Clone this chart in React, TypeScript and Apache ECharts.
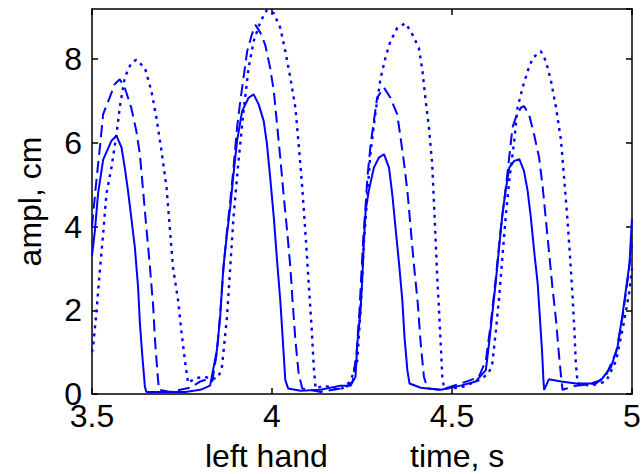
import React, { useEffect, useRef } from "react";
import * as echarts from "echarts";

const xMin = 3.5;
const xMax = 5;
const yMin = 0;
const yMax = 9.2;
const xStep = 0.5;
const yStep = 2;
const xTitleLeft = "left hand";
const xTitleRight = "time, s";
const yTitle = "ampl, cm";

// [time s, amplitude cm]
const solidLine: [number, number][] = [
  [3.5, 3.3], [3.508, 3.9], [3.517, 4.8], [3.531, 5.6], [3.554, 6.05], [3.568, 6.17],
  [3.582, 5.89], [3.591, 5.41], [3.6, 4.86], [3.609, 4.22], [3.619, 3.51], [3.628, 2.55],
  [3.633, 1.69], [3.64, 0.89], [3.647, 0.17], [3.651, 0.05], [3.689, 0.05], [3.759, 0.05],
  [3.801, 0.1], [3.828, 0.2], [3.847, 1.05], [3.856, 1.84], [3.865, 3.03], [3.875, 3.83],
  [3.884, 4.46], [3.893, 5.25], [3.903, 6.05], [3.917, 6.76], [3.935, 7.08], [3.949, 7.16],
  [3.963, 6.92], [3.977, 6.52], [3.986, 5.97], [3.995, 5.17], [4.005, 4.22], [4.014, 3.19],
  [4.023, 2.24], [4.03, 1.29], [4.037, 0.33], [4.045, 0.13], [4.079, 0.08], [4.135, 0.1],
  [4.19, 0.2], [4.218, 0.2], [4.232, 0.41], [4.237, 1.21], [4.246, 2.0], [4.251, 2.79],
  [4.255, 3.59], [4.26, 4.38], [4.269, 4.86], [4.283, 5.41], [4.297, 5.65], [4.311, 5.73],
  [4.325, 5.41], [4.334, 4.78], [4.343, 3.98], [4.353, 3.11], [4.362, 2.24], [4.368, 1.37],
  [4.376, 0.57], [4.382, 0.25], [4.413, 0.15], [4.469, 0.1], [4.524, 0.2], [4.566, 0.3],
  [4.594, 0.57], [4.603, 1.21], [4.612, 1.92], [4.622, 2.71], [4.631, 3.51], [4.64, 4.3],
  [4.649, 4.86], [4.659, 5.41], [4.673, 5.57], [4.687, 5.61], [4.7, 5.33], [4.71, 4.86],
  [4.719, 4.22], [4.728, 3.43], [4.738, 2.64], [4.744, 1.84], [4.75, 1.05], [4.754, 0.33],
  [4.756, 0.1], [4.769, 0.35], [4.803, 0.3], [4.844, 0.25], [4.886, 0.25], [4.914, 0.33],
  [4.942, 0.65], [4.96, 1.13], [4.974, 1.92], [4.984, 2.55], [4.993, 3.11], [4.997, 3.75],
  [5.0, 4.2],
];

const dashedLine: [number, number][] = [
  [3.5, 4.0], [3.511, 5.0], [3.522, 5.9], [3.531, 6.69], [3.549, 7.08], [3.563, 7.4],
  [3.577, 7.52], [3.591, 7.32], [3.609, 6.84], [3.623, 6.29], [3.633, 5.73], [3.642, 4.86],
  [3.651, 3.98], [3.661, 3.03], [3.67, 2.08], [3.675, 1.29], [3.682, 0.49], [3.686, 0.1],
  [3.717, 0.05], [3.773, 0.15], [3.801, 0.3], [3.82, 0.35], [3.834, 0.3], [3.847, 1.0],
  [3.856, 1.9], [3.865, 3.0], [3.875, 3.9], [3.884, 4.6], [3.893, 5.4], [3.903, 6.37],
  [3.912, 7.0], [3.921, 7.56], [3.931, 8.19], [3.944, 8.59], [3.954, 8.82], [3.968, 8.63],
  [3.981, 8.35], [3.995, 7.79], [4.005, 7.24], [4.014, 6.44], [4.023, 5.65], [4.032, 4.78],
  [4.042, 3.9], [4.051, 3.03], [4.057, 2.24], [4.065, 1.29], [4.074, 0.49], [4.084, 0.13],
  [4.135, 0.05], [4.204, 0.15], [4.224, 0.3], [4.235, 1.0], [4.243, 2.0], [4.249, 3.0],
  [4.254, 3.8], [4.26, 4.5], [4.265, 5.17], [4.274, 5.97], [4.283, 6.52], [4.292, 7.08],
  [4.311, 7.32], [4.329, 7.08], [4.348, 6.68], [4.357, 6.13], [4.366, 5.57], [4.376, 4.86],
  [4.385, 3.98], [4.394, 3.11], [4.405, 2.16], [4.413, 1.21], [4.422, 0.41], [4.432, 0.13],
  [4.469, 0.1], [4.524, 0.25], [4.574, 0.4], [4.594, 0.8], [4.608, 1.7], [4.622, 2.8],
  [4.636, 4.0], [4.649, 4.9], [4.663, 5.97], [4.668, 6.37], [4.677, 6.6], [4.691, 6.84],
  [4.7, 6.88], [4.714, 6.68], [4.728, 6.2], [4.742, 5.65], [4.752, 4.94], [4.761, 4.14],
  [4.77, 3.35], [4.779, 2.55], [4.789, 1.76], [4.796, 1.05], [4.803, 0.41], [4.807, 0.1],
  [4.844, 0.2], [4.9, 0.25], [4.928, 0.45], [4.956, 1.0], [4.975, 1.9], [4.989, 2.8],
  [5.0, 3.6],
];

const dottedLine: [number, number][] = [
  [3.5, 1.0], [3.503, 1.13], [3.512, 1.92], [3.521, 2.87], [3.531, 3.83], [3.54, 4.78],
  [3.554, 5.41], [3.568, 6.2], [3.577, 6.84], [3.591, 7.56], [3.609, 7.91], [3.623, 7.99],
  [3.647, 7.79], [3.665, 7.24], [3.679, 6.6], [3.693, 5.81], [3.707, 4.94], [3.716, 3.98],
  [3.725, 3.03], [3.739, 2.24], [3.749, 1.44], [3.758, 0.81], [3.767, 0.26], [3.786, 0.38],
  [3.814, 0.41], [3.834, 0.35], [3.851, 0.4], [3.861, 0.65], [3.875, 1.84], [3.884, 3.03],
  [3.893, 4.22], [3.907, 5.57], [3.921, 6.76], [3.935, 7.79], [3.949, 8.43], [3.968, 8.9],
  [3.986, 9.18], [4.005, 9.1], [4.023, 8.75], [4.037, 8.19], [4.051, 7.56], [4.065, 6.84],
  [4.074, 5.97], [4.084, 4.94], [4.093, 3.83], [4.102, 2.64], [4.11, 1.6], [4.116, 0.65],
  [4.121, 0.13], [4.144, 0.2], [4.19, 0.1], [4.218, 0.3], [4.237, 0.8], [4.246, 2.0],
  [4.255, 3.59], [4.265, 4.78], [4.274, 5.81], [4.288, 6.76], [4.302, 7.56], [4.315, 8.03],
  [4.329, 8.43], [4.348, 8.75], [4.371, 8.86], [4.39, 8.59], [4.408, 8.27], [4.418, 7.71],
  [4.427, 7.0], [4.436, 6.37], [4.445, 5.49], [4.45, 4.54], [4.455, 3.59], [4.459, 2.79],
  [4.464, 2.0], [4.469, 1.13], [4.473, 0.41], [4.478, 0.13], [4.524, 0.15], [4.58, 0.35],
  [4.602, 0.5], [4.612, 0.73], [4.622, 1.52], [4.631, 2.32], [4.64, 3.27], [4.649, 4.22],
  [4.659, 5.1], [4.673, 6.05], [4.682, 6.84], [4.696, 7.32], [4.71, 7.71], [4.724, 8.03],
  [4.747, 8.19], [4.761, 7.95], [4.775, 7.48], [4.789, 6.84], [4.803, 6.05], [4.812, 5.1],
  [4.821, 4.14], [4.828, 3.27], [4.835, 2.32], [4.84, 1.52], [4.844, 0.73], [4.849, 0.25],
  [4.886, 0.2], [4.928, 0.3], [4.956, 0.8], [4.975, 1.6], [4.992, 2.4], [5.0, 3.0],
];

const FONT = "'Liberation Sans', Arial, Helvetica, sans-serif";
const BLUE = "#0000ff";

export default function App() {
  const ref = useRef<HTMLDivElement>(null);

  useEffect(() => {
    if (!ref.current) return;
    const chart = echarts.init(ref.current, null, { renderer: "svg" });

    const baseX = {
      type: "value" as const,
      min: xMin,
      max: xMax,
      interval: xStep,
      splitLine: { show: false },
      axisLine: { show: true, onZero: false, lineStyle: { color: "#000", width: 1.5 } },
      axisTick: { show: true, inside: true, length: 6, lineStyle: { color: "#000", width: 1.5 } },
    };
    const baseY = {
      type: "value" as const,
      min: yMin,
      max: yMax,
      interval: yStep,
      splitLine: { show: false },
      axisLine: { show: true, onZero: false, lineStyle: { color: "#000", width: 1.5 } },
      axisTick: { show: true, inside: true, length: 6, lineStyle: { color: "#000", width: 1.5 } },
    };

    const lineSeries = (name: string, data: [number, number][], dash: any, width: number) => ({
      name,
      type: "line" as const,
      data,
      xAxisIndex: 0,
      yAxisIndex: 0,
      showSymbol: false,
      symbol: "none",
      smooth: false,
      lineStyle: { color: BLUE, width, type: dash },
      clip: true,
    });

    chart.setOption({
      animation: false,
      backgroundColor: "#ffffff",
      grid: {
        left: 92,
        right: 10,
        top: 9,
        bottom: 80,
        containLabel: false,
        outerBoundsMode: "none",
      },
      xAxis: [
        {
          ...baseX,
          position: "bottom",
          axisLabel: {
            show: true,
            color: "#000",
            fontFamily: FONT,
            fontSize: 32,
            lineHeight: 24,
            margin: 10,
            formatter: (v: number) => String(v),
          },
        },
        {
          ...baseX,
          position: "top",
          axisLabel: { show: false },
        },
      ],
      yAxis: [
        {
          ...baseY,
          position: "left",
          name: yTitle,
          nameLocation: "middle",
          nameGap: 46,
          nameRotate: 90,
          nameTextStyle: { color: "#000", fontFamily: FONT, fontSize: 32 },
          axisLabel: {
            show: true,
            color: "#000",
            fontFamily: FONT,
            fontSize: 32,
            lineHeight: 20,
            margin: 10,
            showMaxLabel: false,
            formatter: (v: number) => (v % yStep === 0 ? String(v) : ""),
          },
        },
        {
          ...baseY,
          position: "right",
          axisLabel: { show: false },
        },
      ],
      graphic: [
        {
          type: "text",
          left: 205,
          top: 440,
          style: { text: xTitleLeft, fill: "#000", font: `32px ${FONT}` },
        },
        {
          type: "text",
          left: 410,
          top: 440,
          style: { text: xTitleRight, fill: "#000", font: `32px ${FONT}` },
        },
      ],
      series: [
        lineSeries("solid", solidLine, "solid", 2),
        lineSeries("dashed", dashedLine, [12, 6], 2),
        lineSeries("dotted", dottedLine, [3, 5], 2.4),
      ],
    });

    return () => chart.dispose();
  }, []);

  return <div ref={ref} style={{ width: 642, height: 474, position: "absolute", left: 0, top: 0 }} />;
}
